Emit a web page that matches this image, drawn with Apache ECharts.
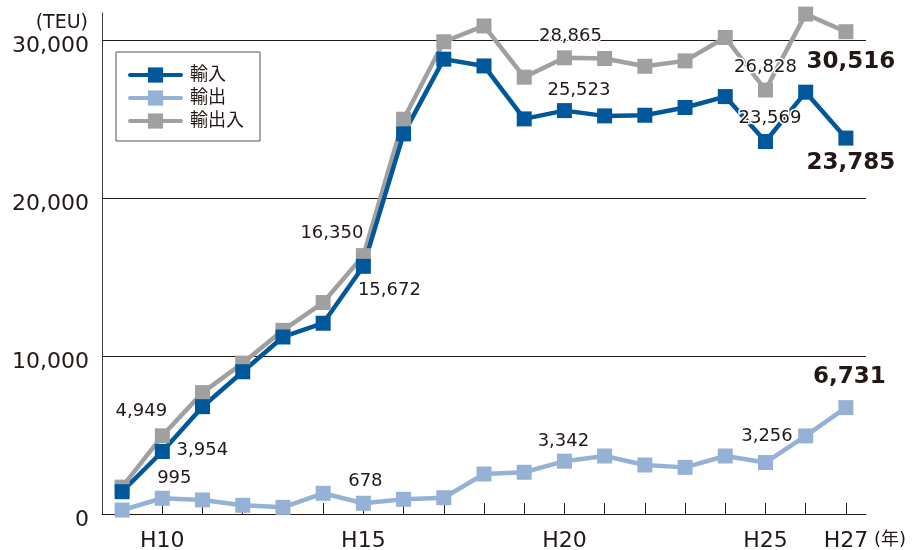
<!DOCTYPE html>
<html>
<head>
<meta charset="utf-8">
<script src="https://cdn.jsdelivr.net/npm/echarts@6/dist/echarts.min.js"></script>
<style>
html,body{margin:0;padding:0;background:#fff;}
#c{width:912px;height:550px;}
</style>
</head>
<body>
<div id="c"></div>
<script>
const years = ['H9','H10','H11','H12','H13','H14','H15','H16','H17','H18','H19','H20','H21','H22','H23','H24','H25','H26','H27'];
const importVals = [1410, 3954, 6790, 9000, 11200, 12070, 15672, 24050, 28780, 28350, 25000, 25523, 25190, 25230, 25720, 26410, 23569, 26690, 23785];
const exportVals = [250, 995, 890, 550, 420, 1310, 678, 930, 1030, 2530, 2640, 3342, 3670, 3100, 2950, 3670, 3256, 4940, 6731];
const totalVals = [1700, 4949, 7680, 9550, 11620, 13380, 16350, 24980, 29880, 30880, 27640, 28865, 28820, 28330, 28670, 30150, 26828, 31630, 30516];
const yTicks = [0, 10000, 20000, 30000];
const shownYears = ['H10','H15','H20','H25','H27'];

// label placement (offsets from point centre, px)
const importLabelPos = {1:[40,-1], 6:[26,24], 11:[14.5,-20], 16:[4.5,-23.5], 18:[5,24.5]};
const exportLabelPos = {1:[12,-20], 6:[2,-22], 11:[-1,-20], 16:[1.5,-26], 18:[3.5,-30.5]};
const totalLabelPos = {1:[-21,-24], 6:[-31.5,-22], 11:[6,-21], 16:[0,-22.5], 18:[5,30]};

const FONT = "'DejaVu Sans','Noto Sans CJK JP',sans-serif";
const TXT = '#231815';

function fmt(v){ return String(v).replace(/\B(?=(\d{3})+(?!\d))/g, ','); }

function mkData(vals, spec){
  return vals.map((v,i)=>{
    const s = spec[i];
    if(!s) return v;
    const last = i === vals.length-1;
    return {
      value: v,
      label: {
        show: true, position: 'inside', offset: s,
        fontSize: last ? 23 : 18,
        fontWeight: last ? 'bold' : 'normal',
        color: TXT, fontFamily: FONT,
        textBorderColor: '#fff', textBorderWidth: 3
      }
    };
  });
}

function mkSeries(name, vals, spec, color){
  return {
    name: name, type: 'line', data: mkData(vals, spec),
    symbol: 'rect', symbolSize: 15, showAllSymbol: true, clip: false,
    lineStyle: {width: 4.5, color: color},
    itemStyle: {color: color},
    label: {show: false, formatter: p => fmt(p.value)},
    emphasis: {disabled: true},
    animation: false
  };
}

const chart = echarts.init(document.getElementById('c'), null, {renderer:'canvas'});
chart.setOption({
  animation: false,
  textStyle: {fontFamily: FONT, color: TXT},
  grid: {left: 102, right: 46, top: 13, bottom: 36, containLabel: false, outerBoundsMode: 'none'},
  legend: {
    data: ['輸入','輸出','輸出入'],
    orient: 'vertical', left: 116, top: 52,
    padding: [14, 16, 11, 12],
    itemWidth: 51, itemHeight: 19, itemGap: 5,
    borderColor: '#595757', borderWidth: 1,
    lineStyle: {width: 4, cap: 'round'},
    textStyle: {fontSize: 18, color: TXT, fontFamily: FONT, padding: [0,0,0,4]},
    selectedMode: false
  },
  xAxis: {
    type: 'category', data: years, boundaryGap: true,
    axisLine: {lineStyle: {color: TXT, width: 1}},
    axisTick: {show: true, inside: true, length: 11, alignWithLabel: true, interval: 0, lineStyle: {color: TXT, width: 1}},
    axisLabel: {
      interval: (idx, val) => shownYears.includes(val),
      fontSize: 22, color: TXT, fontFamily: FONT, margin: 16
    },
    splitLine: {show: false}
  },
  yAxis: {
    type: 'value', min: 0, max: 31700, interval: 10000,
    axisLine: {show: true, lineStyle: {color: '#3e3a39', width: 1}},
    axisTick: {show: false},
    axisLabel: {
      fontSize: 22, color: TXT, fontFamily: FONT, margin: 13,
      showMaxLabel: false, verticalAlign: 'top', lineHeight: 12,
      formatter: v => yTicks.includes(v) ? fmt(v) : ''
    },
    splitLine: {show: true, showMaxLine: false, lineStyle: {color: TXT, width: 1}}
  },
  graphic: [
    {type: 'text', x: 88, y: 23, style: {text: '(TEU)', fontSize: 19, fontFamily: FONT, fill: TXT, textAlign: 'right', textVerticalAlign: 'middle'}},
    {type: 'text', x: 874, y: 540, style: {text: '(年)', fontSize: 18, fontFamily: FONT, fill: TXT, textAlign: 'left', textVerticalAlign: 'middle'}}
  ],
  series: [
    mkSeries('輸出入', totalVals, totalLabelPos, '#a0a0a0'),
    mkSeries('輸出', exportVals, exportLabelPos, '#95b1d6'),
    mkSeries('輸入', importVals, importLabelPos, '#00579a')
  ]
});
</script>
</body>
</html>
